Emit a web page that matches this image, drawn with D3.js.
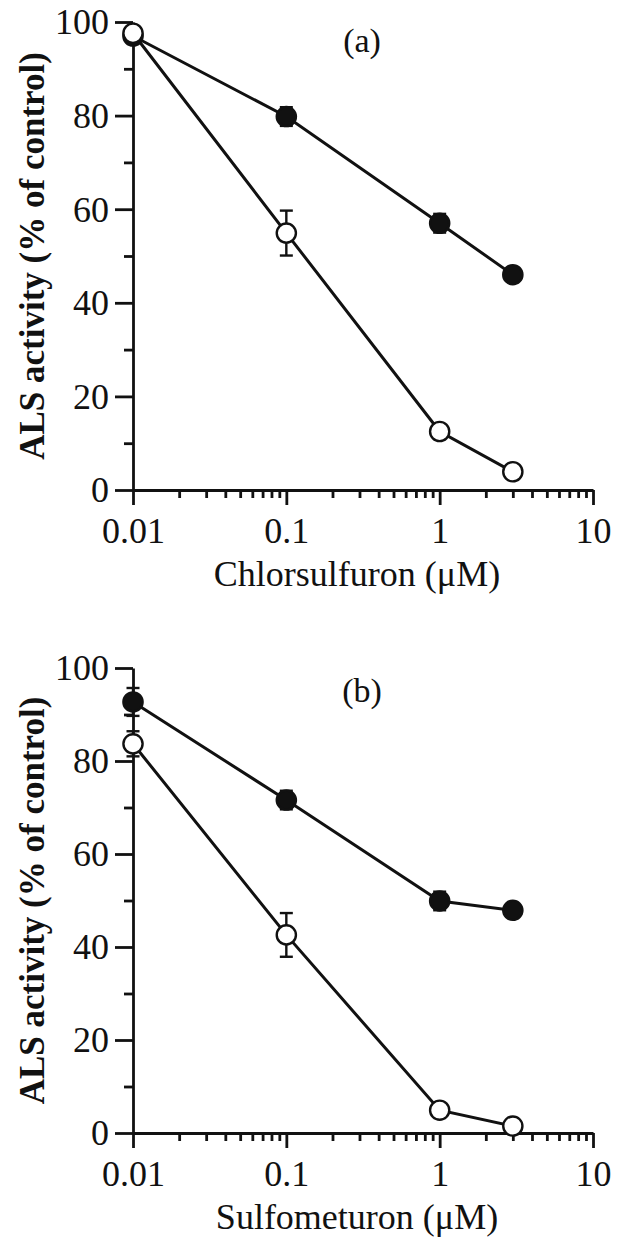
<!DOCTYPE html>
<html lang="en">
<head>
  <meta charset="UTF-8">
  <title>ALS activity</title>
  <script src="https://d3js.org/d3.v7.min.js"></script>
  <style>
    body { margin: 0; background: #fff; }
    svg { display: block; }
    text { font-family: "Liberation Serif", "Times New Roman", serif; fill: #111; }
    .axis path, .axis line { stroke: #111; stroke-width: 2.8; }
    .axis text { font-size: 36px; }
  </style>
</head>
<body>
  <svg width="620" height="1242"></svg>
  <script>
    // dados
    const conc = [0.01, 0.1, 1, 3];
    const chlorFilled = [97, 79.8, 57, 46];
    const chlorFilledErr = [1, 2, 2, 1.5];
    const chlorOpen = [97.6, 54.9, 12.5, 3.9];
    const chlorOpenErr = [1, 4.8, 1, 1];
    const sulfoFilled = [92.7, 71.6, 49.9, 47.9];
    const sulfoFilledErr = [3, 2, 2, 1];
    const sulfoOpen = [83.7, 42.6, 4.9, 1.5];
    const sulfoOpenErr = [2.7, 4.7, 1, 1];
    const xTicks = [0.01, 0.1, 1, 10];
    const xTickLabels = ['0.01', '0.1', '1', '10'];
    const yTicks = [0, 20, 40, 60, 80, 100];
    const yMinor = [10, 30, 50, 70, 90];
    const xMinor = [];
    [0.01, 0.1, 1].forEach(d => { for (let k = 2; k <= 9; k++) xMinor.push(d * k); });

    const panels = [
      { top: 22, bottom: 490, tag: '(a)', tagY: 52, title: 'Chlorsulfuron (\u03bcM)',
        filled: chlorFilled, filledErr: chlorFilledErr, open: chlorOpen, openErr: chlorOpenErr },
      { top: 668, bottom: 1133, tag: '(b)', tagY: 702, title: 'Sulfometuron (\u03bcM)',
        filled: sulfoFilled, filledErr: sulfoFilledErr, open: sulfoOpen, openErr: sulfoOpenErr }
    ];

    const svg = d3.select('svg');
    const left = 133, right = 593;

    panels.forEach(p => {
      const x = d3.scaleLog().domain([0.01, 10]).range([left, right]);
      const y = d3.scaleLinear().domain([0, 100]).range([p.bottom, p.top]);
      const g = svg.append('g');

      // eixo y
      g.append('g').attr('class', 'axis')
        .attr('transform', `translate(${left},0)`)
        .call(d3.axisLeft(y).tickValues(yMinor).tickSize(9).tickFormat(''))
        .call(a => a.select('.domain').remove());
      g.append('g').attr('class', 'axis')
        .attr('transform', `translate(${left},0)`)
        .call(d3.axisLeft(y).tickValues(yTicks).tickSize(18).tickSizeOuter(0).tickPadding(6))
        .call(a => a.selectAll('text').attr('dy', '0.33em'));

      // eixo x
      g.append('g').attr('class', 'axis')
        .attr('transform', `translate(0,${p.bottom})`)
        .call(d3.axisBottom(x).tickValues(xMinor).tickSize(8).tickFormat(''))
        .call(a => a.select('.domain').remove());
      g.append('g').attr('class', 'axis')
        .attr('transform', `translate(0,${p.bottom})`)
        .call(d3.axisBottom(x).tickValues(xTicks).tickSize(15).tickSizeOuter(0)
          .tickFormat((d, i) => xTickLabels[i]).tickPadding(12))
        .call(a => a.selectAll('text').attr('dy', '0.71em'));

      // titulos
      g.append('text')
        .attr('x', 357).attr('y', p.bottom + 96)
        .attr('text-anchor', 'middle').attr('font-size', 36)
        .text(p.title);
      g.append('text')
        .attr('transform', `translate(44,${(p.top + p.bottom) / 2}) rotate(-90)`)
        .attr('text-anchor', 'middle').attr('font-size', 35).attr('font-weight', 'bold')
        .text('ALS activity (% of control)');
      g.append('text')
        .attr('x', 362).attr('y', p.tagY)
        .attr('text-anchor', 'middle').attr('font-size', 34)
        .text(p.tag);

      const line = d3.line().x((d, i) => x(conc[i])).y(d => y(d));

      [p.filled, p.open].forEach(vals => {
        g.append('path').datum(vals)
          .attr('fill', 'none').attr('stroke', '#111').attr('stroke-width', 3)
          .attr('d', line);
      });

      [[p.filled, p.filledErr, '#111'], [p.open, p.openErr, '#fff']].forEach(([vals, errs, fill]) => {
        const eb = g.append('g').attr('stroke', '#111').attr('stroke-width', 2.4);
        vals.forEach((v, i) => {
          const cx = x(conc[i]);
          eb.append('line').attr('x1', cx).attr('x2', cx)
            .attr('y1', y(v - errs[i])).attr('y2', y(v + errs[i]));
          [v - errs[i], v + errs[i]].forEach(e => {
            eb.append('line').attr('x1', cx - 6.5).attr('x2', cx + 6.5)
              .attr('y1', y(e)).attr('y2', y(e));
          });
        });
        g.selectAll(null).data(vals).enter().append('circle')
          .attr('cx', (d, i) => x(conc[i]))
          .attr('cy', d => y(d))
          .attr('r', 9.6)
          .attr('fill', fill)
          .attr('stroke', '#111')
          .attr('stroke-width', 2.4);
      });
    });
  </script>
</body>
</html>
